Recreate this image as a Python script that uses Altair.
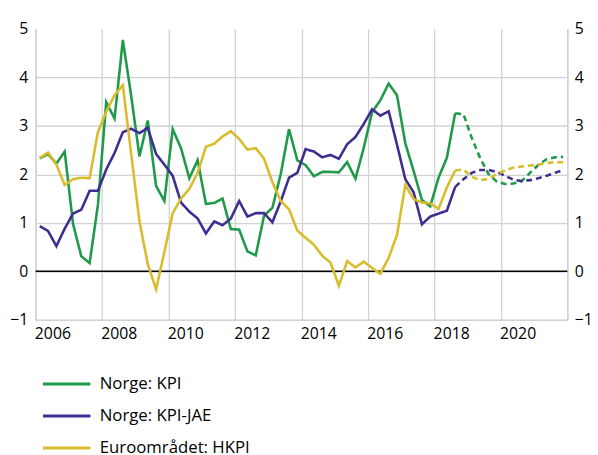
import altair as alt
import pandas as pd

# Quarterly data, 2006 Q1 - 2021 Q4 (projections from 2018 Q3)
first_year = 2006
last_actual_index = 50

series_names = ["Norge: KPI", "Norge: KPI-JAE", "Euroområdet: HKPI"]
series_colors = ["#1f9a4a", "#3f2d91", "#d9bc2c"]

kpi = [2.33, 2.42, 2.22, 2.47, 0.98, 0.31, 0.17, 1.37, 3.49, 3.15,
       4.77, 3.62, 2.37, 3.11, 1.76, 1.45, 2.93, 2.54, 1.92, 2.29,
       1.39, 1.41, 1.50, 0.87, 0.86, 0.41, 0.33, 1.15, 1.31, 2.00,
       2.93, 2.29, 2.19, 1.96, 2.05, 2.05, 2.04, 2.25, 1.91, 2.55,
       3.28, 3.53, 3.87, 3.63, 2.64, 2.07, 1.47, 1.34, 1.93, 2.34,
       3.26, 3.24, 2.75, 2.34, 2.01, 1.85, 1.80, 1.81, 1.86, 2.03,
       2.19, 2.31, 2.35, 2.36]

kpi_jae = [0.93, 0.83, 0.52, 0.88, 1.19, 1.27, 1.66, 1.66, 2.10, 2.44,
           2.87, 2.94, 2.85, 2.96, 2.42, 2.20, 1.97, 1.42, 1.23, 1.09,
           0.78, 1.03, 0.95, 1.09, 1.45, 1.13, 1.20, 1.20, 1.01, 1.44,
           1.93, 2.03, 2.52, 2.47, 2.35, 2.40, 2.32, 2.62, 2.77, 3.04,
           3.34, 3.21, 3.30, 2.61, 1.90, 1.63, 0.97, 1.13, 1.19, 1.25,
           1.74, 1.90, 2.03, 2.09, 2.09, 2.05, 1.97, 1.89, 1.86, 1.88,
           1.92, 1.97, 2.03, 2.09]

hkpi = [2.34, 2.45, 2.20, 1.78, 1.90, 1.93, 1.92, 2.87, 3.29, 3.63,
        3.84, 2.42, 1.03, 0.15, -0.37, 0.40, 1.20, 1.50, 1.70, 2.03,
        2.57, 2.63, 2.78, 2.89, 2.73, 2.51, 2.54, 2.32, 1.84, 1.45,
        1.28, 0.84, 0.69, 0.55, 0.32, 0.18, -0.30, 0.21, 0.08, 0.20,
        0.07, -0.05, 0.28, 0.75, 1.78, 1.49, 1.42, 1.40, 1.29, 1.73,
        2.08, 2.10, 1.95, 1.88, 1.91, 2.00, 2.08, 2.14, 2.16, 2.18,
        2.20, 2.23, 2.25, 2.25]

year_ticks = [2006, 2008, 2010, 2012, 2014, 2016, 2018, 2020, 2022]
y_ticks = [-1, 0, 1, 2, 3, 4, 5]
x_domain = [2006, 2022]
y_domain = [-1, 5]

rows = []
for name, vals in zip(series_names, [kpi, kpi_jae, hkpi]):
    for i, v in enumerate(vals):
        t = first_year + (i + 0.5) / 4
        if i <= last_actual_index:
            rows.append({"t": t, "v": v, "serie": name, "del": "Faktisk", "idx": i})
        if i >= last_actual_index:
            rows.append({"t": t, "v": v, "serie": name, "del": "Anslag", "idx": i})
df = pd.DataFrame(rows)

FONT = "Open Sans"
GRID = "#d2d2d2"

lines = alt.Chart(df).mark_line(strokeWidth=2.6).encode(
    x=alt.X("t:Q",
            scale=alt.Scale(domain=x_domain, nice=False, zero=False),
            axis=alt.Axis(values=year_ticks, title=None, grid=True, gridColor=GRID,
                          gridWidth=1.3, ticks=False, domainColor=GRID, domainWidth=1.5,
                          labelExpr="datum.value == 2022 ? '' : datum.label",
                          labelOffset=17, labelPadding=6, labelFont=FONT,
                          labelFontSize=16, labelColor="#000", labelFlush=False,
                          labelOverlap=False, format="d")),
    y=alt.Y("v:Q",
            scale=alt.Scale(domain=y_domain, nice=False, zero=False),
            axis=alt.Axis(orient="left", values=y_ticks, title=None, grid=True,
                          gridColor=alt.condition("datum.value == 5", alt.value("transparent"), alt.value(GRID)),
                          gridWidth=1.3, ticks=False, domainColor=GRID, domainWidth=1.5,
                          labelPadding=8, labelFont=FONT, labelFontSize=16,
                          labelColor="#000", labelFlush=False)),
    color=alt.Color("serie:N",
                    scale=alt.Scale(domain=series_names, range=series_colors),
                    legend=alt.Legend(title=None, orient="none", legendX=6, legendY=350,
                                      direction="vertical", symbolType="stroke",
                                      symbolSize=2304, symbolStrokeWidth=3,
                                      clipHeight=20, rowPadding=12.5, labelOffset=8,
                                      labelFont=FONT, labelFontSize=17, labelColor="#000",
                                      padding=0)),
    strokeDash=alt.StrokeDash("del:N",
                              scale=alt.Scale(domain=["Faktisk", "Anslag"], range=[[1, 0], [6, 4]]),
                              legend=None),
    order="idx:Q",
)

zero = alt.Chart(pd.DataFrame({"y": [0]})).mark_rule(color="#000", strokeWidth=1.5).encode(
    y=alt.Y("y:Q",
            scale=alt.Scale(domain=y_domain, nice=False, zero=False),
            axis=alt.Axis(orient="right", values=y_ticks, title=None, grid=False,
                          ticks=False, domainColor=GRID, domainWidth=1.5,
                          labelPadding=7, labelFont=FONT, labelFontSize=16,
                          labelColor="#000", labelFlush=False))
)

chart = alt.layer(zero, lines).resolve_scale(y="independent").properties(
    width=539, height=295,
    padding={"left": 28, "top": 18, "right": 23, "bottom": 140},
    autosize=alt.AutoSizeParams(type="none"),
).configure_view(stroke="transparent")

chart.save("out.html", embed_options={"renderer": "svg", "actions": False})
